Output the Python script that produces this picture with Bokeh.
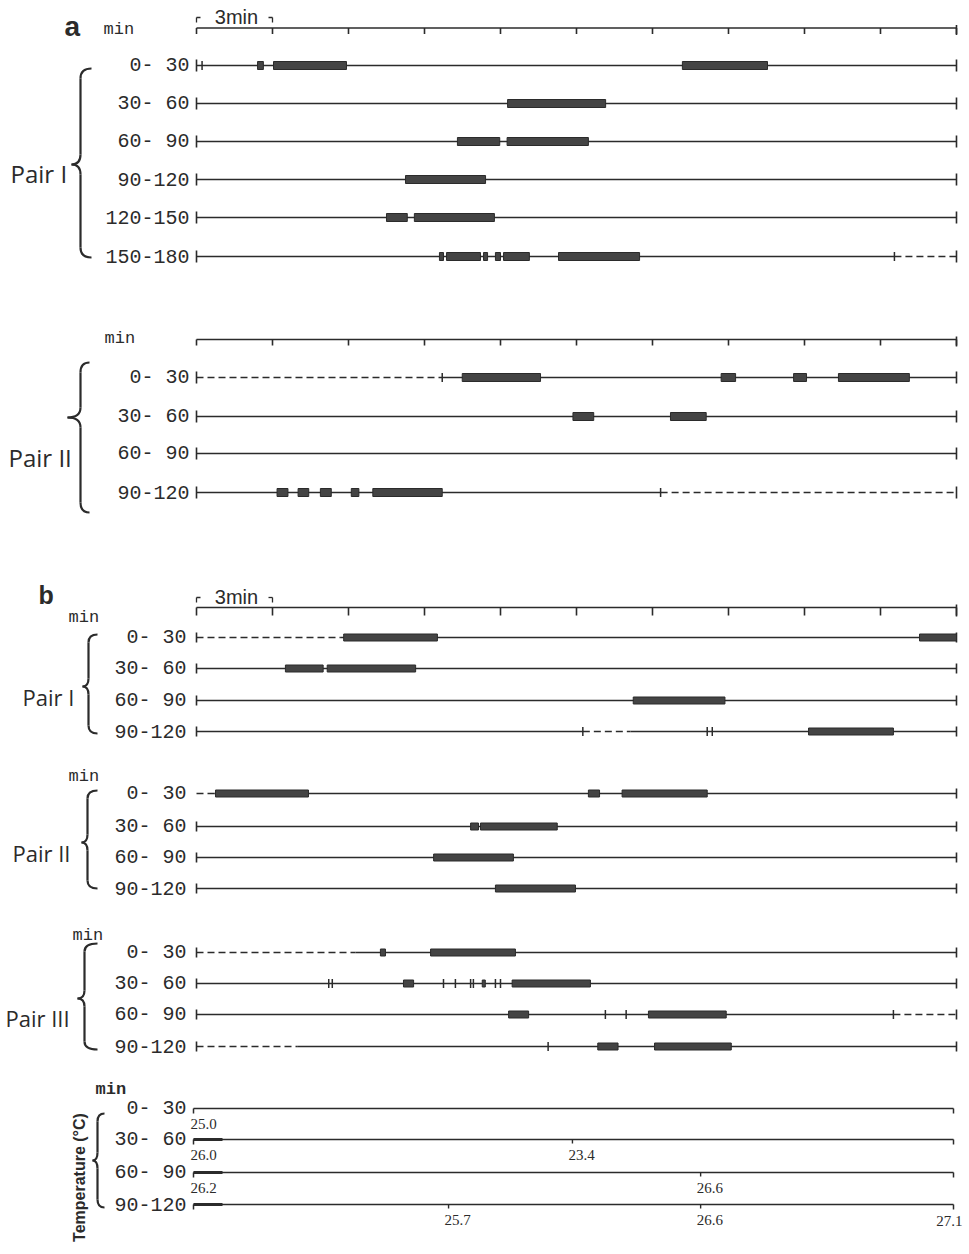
import numpy as np
from bokeh.plotting import figure
from bokeh.models import Range1d
from bokeh.core.properties import value
from bokeh.embed import file_html
from bokeh.resources import INLINE

# ------------------------- DATA (minutes within each 30-min row) -------------------------
row_span_min = 30.0
tick_step_min = 3.0

# Panel a, Pair I
a1_labels = ["0- 30", "30- 60", "60- 90", "90-120", "120-150", "150-180"]
a1_bouts = [
    [(2.41, 2.64), (3.04, 5.92), (19.18, 22.54)],
    [(12.28, 16.15)],
    [(10.30, 11.97), (12.26, 15.47)],
    [(8.25, 11.41)],
    [(7.50, 8.32), (8.60, 11.76)],
    [(9.59, 9.75), (9.87, 11.21), (11.33, 11.49), (11.80, 12.00), (12.12, 13.14), (14.29, 17.49)],
]
a1_dashed = [[], [], [], [], [], [(27.55, 30.0)]]
a1_marks = [[0.22], [], [], [], [], [27.55]]

# Panel a, Pair II
a2_labels = ["0- 30", "30- 60", "60- 90", "90-120"]
a2_bouts = [
    [(10.49, 13.58), (20.71, 21.28), (23.57, 24.08), (25.34, 28.14)],
    [(14.86, 15.68), (18.71, 20.12)],
    [],
    [(3.18, 3.61), (4.01, 4.43), (4.89, 5.32), (6.11, 6.41), (6.96, 9.70)],
]
a2_dashed = [[(0.0, 9.70)], [], [], [(18.32, 30.0)]]
a2_marks = [[9.70], [], [], [18.32]]

# Panel b
b_labels = ["0- 30", "30- 60", "60- 90", "90-120"]
b1_bouts = [
    [(5.81, 9.51), (28.54, 30.0)],
    [(3.51, 5.00), (5.16, 8.65)],
    [(17.24, 20.86)],
    [(24.16, 27.51)],
]
b1_dashed = [[(0.0, 5.70)], [], [], [(15.25, 17.13)]]
b1_marks = [[], [], [], [15.25, 20.16, 20.36]]

b2_bouts = [
    [(0.75, 4.42), (15.47, 15.91), (16.80, 20.16)],
    [(10.82, 11.13), (11.21, 14.24)],
    [(9.36, 12.51)],
    [(11.80, 14.96)],
]
b2_dashed = [[(0.0, 0.70)], [], [], []]
b2_marks = [[], [], [], []]

b3_bouts = [
    [(7.26, 7.46), (9.24, 12.59)],
    [(8.17, 8.57), (11.28, 11.40), (12.46, 15.55)],
    [(12.32, 13.11), (17.84, 20.91)],
    [(15.84, 16.64), (18.08, 21.11)],
]
b3_dashed = [[(0.0, 6.28)], [], [(27.51, 30.0)], [(0.0, 4.00)]]
b3_marks = [[], [5.22, 5.36, 9.75, 10.22, 10.82, 10.93, 11.80, 12.00], [16.14, 16.96, 27.51], [13.88]]

# Temperature (deg C) readings along the rows
temp_labels = ["0- 30", "30- 60", "60- 90", "90-120"]
temp_row = [0, 1, 1, 2, 2, 3, 3, 3]
temp_min = [0.0, 0.0, 14.84, 0.0, 19.90, 9.95, 19.90, 29.88]
temp_val = [25.0, 26.0, 23.4, 26.2, 26.6, 25.7, 26.6, 27.1]

# ------------------------- LAYOUT -------------------------
W, H = 968, 1246
OFF = 0              # page offset of the canvas
PX0 = 196.0          # page x of minute 0
KPX = 25.333         # page px per minute


def mx(px):
    return (px - PX0) / KPX


INK = "#2b2b2b"
BAR = "#444444"
MONO = value("Liberation Mono")
SANS = value("Liberation Sans")
SERIF = value("Liberation Serif")
PAIRF = value("Open Sans")

p = figure(width=W, height=H, x_range=Range1d(mx(OFF), mx(OFF + W)),
           y_range=Range1d(OFF + H, OFF), output_backend="svg",
           toolbar_location=None, min_border=0, x_axis_type=None, y_axis_type=None)
p.grid.visible = False
p.outline_line_color = None
p.background_fill_color = "white"
p.border_fill_color = "white"


def draw_axis(y, tick_len, bracket_y=None):
    p.segment(x0=[0], y0=[y], x1=[row_span_min], y1=[y], line_color=INK, line_width=1.4)
    ticks = np.arange(0, row_span_min + 0.01, tick_step_min)
    p.segment(x0=ticks, y0=[y] * len(ticks), x1=ticks, y1=[y + tick_len] * len(ticks),
              line_color=INK, line_width=1.6)
    p.segment(x0=[row_span_min], y0=[y - 3], x1=[row_span_min], y1=[y + tick_len + 1],
              line_color=INK, line_width=1.6)
    if bracket_y is not None:
        a, b = 0.0, tick_step_min
        h = mx(PX0 + 4)
        p.segment(x0=[a, a, b - h, b], y0=[bracket_y, bracket_y, bracket_y, bracket_y],
                  x1=[a, a + h, b, b], y1=[bracket_y + 5, bracket_y, bracket_y, bracket_y + 5],
                  line_color=INK, line_width=1.3)
        p.text(x=[tick_step_min / 2 + mx(PX0 + 2)], y=[bracket_y - 1], text=["3min"],
               text_align="center", text_baseline="middle", text_font=SANS,
               text_font_size="20px", text_color=INK)


def draw_row(y, label, bouts, dashes, marks, bar_h, end_h, label_px, font_px="20px", left_tick=True):
    solid = []
    cur = 0.0
    for a, b in sorted(dashes):
        if a > cur:
            solid.append((cur, a))
        cur = max(cur, b)
    if cur < row_span_min:
        solid.append((cur, row_span_min))
    if solid:
        p.segment(x0=[s[0] for s in solid], y0=[y] * len(solid), x1=[s[1] for s in solid],
                  y1=[y] * len(solid), line_color=INK, line_width=1.4)
    if dashes:
        p.segment(x0=[d[0] for d in dashes], y0=[y] * len(dashes), x1=[d[1] for d in dashes],
                  y1=[y] * len(dashes), line_color=INK, line_width=1.4, line_dash="7 4")
    ends = [0.0, row_span_min] if left_tick else [row_span_min]
    p.segment(x0=ends, y0=[y - end_h] * len(ends), x1=ends, y1=[y + end_h] * len(ends),
              line_color=INK, line_width=1.6)
    if marks:
        p.segment(x0=marks, y0=[y - 4.5] * len(marks), x1=marks, y1=[y + 4.5] * len(marks),
                  line_color=INK, line_width=1.5)
    if bouts:
        p.quad(left=[b[0] for b in bouts], right=[b[1] for b in bouts],
               top=[y - bar_h / 2] * len(bouts), bottom=[y + bar_h / 2] * len(bouts),
               fill_color=BAR, line_color=INK, line_width=1)
    p.text(x=[mx(label_px)], y=[y], text=[label], text_align="right", text_baseline="middle",
           text_font=MONO, text_font_size=font_px, text_color=INK)


def brace(xe, xm, xt, yt, ytip, yb, d=10, lw=2.2):
    X = mx
    p.quadratic(x0=[X(xe), X(xm), X(xt), X(xm)], y0=[yt, ytip - d, ytip, yb - d],
                x1=[X(xm), X(xt), X(xm), X(xe)], y1=[yt + d, ytip, ytip + d, yb],
                cx=[X(xm), X(xm), X(xm), X(xm)], cy=[yt, ytip, ytip, yb],
                line_color=INK, line_width=lw)
    p.segment(x0=[X(xm), X(xm)], y0=[yt + d, ytip + d], x1=[X(xm), X(xm)], y1=[ytip - d, yb - d],
              line_color=INK, line_width=lw)


def label(px, y, txt, font, size, align="left", baseline="middle", weight="normal", angle=0.0):
    p.text(x=[mx(px)], y=[y], text=[txt], text_align=align, text_baseline=baseline,
           text_font=font, text_font_size=size, text_font_style=weight, text_color=INK, angle=angle)


# ---------------- Panel a ----------------
label(64, 26, "a", SANS, "28px", baseline="alphabetic", weight="bold")
label(103, 29, "min", MONO, "17px")
draw_axis(27.5, 6, bracket_y=17)
a1_y = [65, 103, 141, 179, 217, 256]
for yy, lab, bt, ds, mk in zip(a1_y, a1_labels, a1_bouts, a1_dashed, a1_marks):
    draw_row(yy, lab, bt, ds, mk, 8, 6, 189)
brace(91, 80, 71, 68, 164, 257)
label(10, 173, "Pair I", PAIRF, "24px", baseline="alphabetic")

label(104, 338, "min", MONO, "17px")
draw_axis(339, 6)
a2_y = [377, 416, 453, 492]
for yy, lab, bt, ds, mk in zip(a2_y, a2_labels, a2_bouts, a2_dashed, a2_marks):
    draw_row(yy, lab, bt, ds, mk, 8, 6, 189)
brace(89, 80, 67, 362, 417, 512)
label(8, 457, "Pair II", PAIRF, "24px", baseline="alphabetic")

# ---------------- Panel b ----------------
label(38, 594, "b", SANS, "25px", baseline="alphabetic", weight="bold")
draw_axis(607, 8, bracket_y=597)
label(68, 617, "min", MONO, "17px")
b1_y = [637, 668, 700, 731]
for yy, lab, bt, ds, mk in zip(b1_y, b_labels, b1_bouts, b1_dashed, b1_marks):
    draw_row(yy, lab, bt, ds, mk, 7, 5, 186)
brace(97, 88, 82, 634, 686, 733, d=8)
label(22, 696, "Pair I", PAIRF, "22px", baseline="alphabetic")

label(68, 776, "min", MONO, "17px")
b2_y = [793, 826, 857, 888]
for i, (yy, lab, bt, ds, mk) in enumerate(zip(b2_y, b_labels, b2_bouts, b2_dashed, b2_marks)):
    draw_row(yy, lab, bt, ds, mk, 7, 5, 186, left_tick=(i != 0))
brace(97, 87, 81, 790, 842, 888, d=8)
label(12, 852, "Pair II", PAIRF, "22px", baseline="alphabetic")

label(72, 935, "min", MONO, "17px")
b3_y = [952, 983, 1014, 1046]
for yy, lab, bt, ds, mk in zip(b3_y, b_labels, b3_bouts, b3_dashed, b3_marks):
    draw_row(yy, lab, bt, ds, mk, 7, 5, 186)
brace(97, 84, 77, 943, 998, 1049, d=8)
label(5, 1017, "Pair III", PAIRF, "22px", baseline="alphabetic")

# ---------------- Temperature ----------------
label(95, 1089, "min", MONO, "17px", weight="bold")
t_y = [1108, 1139, 1172, 1204]
t_start, t_end = mx(193), mx(953)
p.segment(x0=[t_start] * 4, y0=t_y, x1=[t_end] * 4, y1=t_y, line_color=INK, line_width=1.5)
p.segment(x0=[t_start] * 4 + [t_end] * 4, y0=t_y + t_y, x1=[t_start] * 4 + [t_end] * 4,
          y1=[v + 5 for v in t_y] * 2, line_color=INK, line_width=1.5)
p.segment(x0=[t_start] * 3, y0=t_y[1:], x1=[mx(222)] * 3, y1=t_y[1:], line_color=INK, line_width=3)
for yy, lab in zip(t_y, temp_labels):
    p.text(x=[mx(186)], y=[yy], text=[lab], text_align="right", text_baseline="middle",
           text_font=MONO, text_font_size="20px", text_color=INK)
mid = [(r, m) for r, m in zip(temp_row, temp_min) if 0 < m < 29]
p.segment(x0=[m for r, m in mid], y0=[t_y[r] for r, m in mid], x1=[m for r, m in mid],
          y1=[t_y[r] + 4 for r, m in mid], line_color=INK, line_width=1.4)
for r, m, v in zip(temp_row, temp_min, temp_val):
    ty = t_y[r] + 15
    if m == 0.0:
        p.text(x=[mx(190)], y=[ty], text=[f"{v:.1f}"], text_align="left", text_baseline="middle",
               text_font=SERIF, text_font_size="15px", text_color=INK)
    elif m > 29:
        p.text(x=[m], y=[ty + 1], text=[f"{v:.1f}"], text_align="right", text_baseline="middle",
               text_font=SERIF, text_font_size="15px", text_color=INK, x_offset=9)
    else:
        p.text(x=[m], y=[ty], text=[f"{v:.1f}"], text_align="left", text_baseline="middle",
               text_font=SERIF, text_font_size="15px", text_color=INK, x_offset=-4)
brace(104, 97, 92, 1113, 1160, 1207, d=8)
label(79, 1177, "Temperature (°C)", SANS, "16px", align="center", weight="bold", angle=np.pi / 2)

open("out.html", "w").write(file_html(p, INLINE))
